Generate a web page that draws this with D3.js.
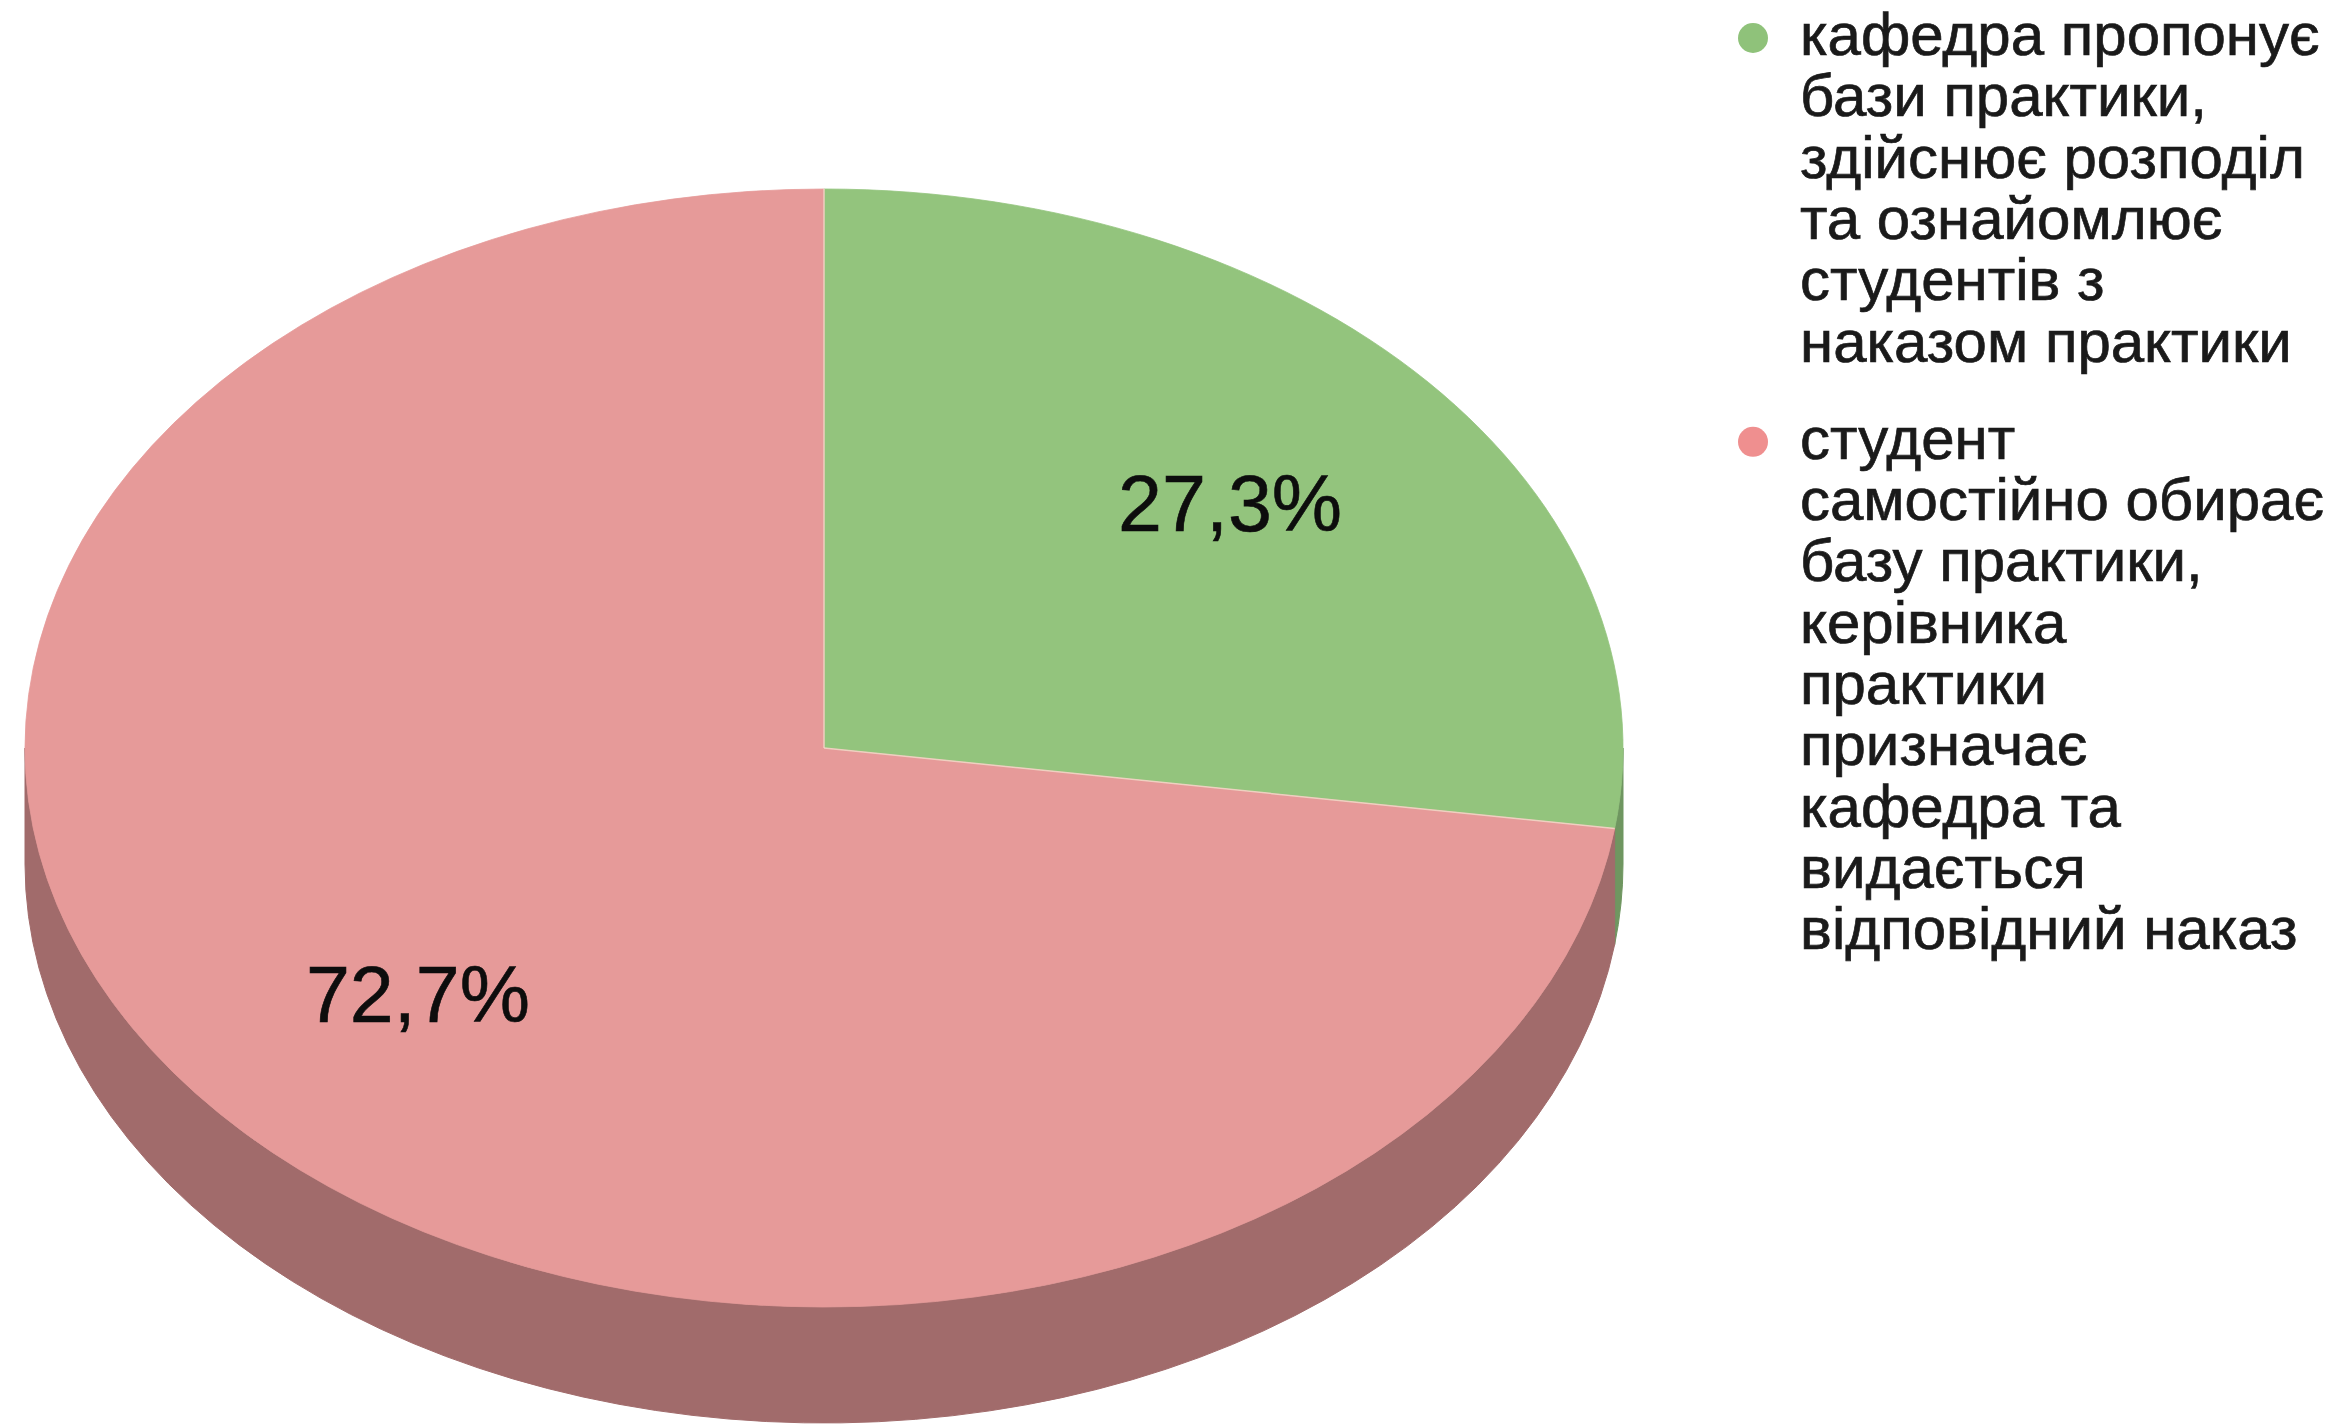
<!DOCTYPE html>
<html lang="uk">
<head>
<meta charset="utf-8">
<script src="https://cdn.jsdelivr.net/npm/d3@7"></script>
<style>
  html, body { margin: 0; padding: 0; background: #ffffff; }
  svg { display: block; }
  text { font-family: "Liberation Sans", Arial, Helvetica, sans-serif; }
</style>
</head>
<body>
<svg id="chart" width="2346" height="1426"></svg>
<script>
// Survey answers: who arranges the student's practice placement
const categories = [
  "кафедра пропонує бази практики, здійснює розподіл та ознайомлює студентів з наказом практики",
  "студент самостійно обирає базу практики, керівника практики призначає кафедра та видається відповідний наказ"
];
const values = [27.3, 72.7];
const valueLabels = ["27,3%", "72,7%"];
const legendLines = [
  ["кафедра пропонує", "бази практики,", "здійснює розподіл", "та ознайомлює", "студентів з", "наказом практики"],
  ["студент", "самостійно обирає", "базу практики,", "керівника", "практики", "призначає", "кафедра та", "видається", "відповідний наказ"]
];
const topColors = ["#93c47d", "#e69a99"];
const sideColors = ["#6f9660", "#a16b6b"];
const legendColors = ["#8fc27a", "#ef8f8f"];

const W = 2346, H = 1426;
const svg = d3.select("#chart");

// Tilted pie geometry
const cx = 824, cy = 748, rx = 799, ry = 559, depth = 116;
const labelRadius = 0.672;

const arcs = d3.pie().sort(null).value(d => d)(values);

// angle measured clockwise from 12 o'clock
const pt = (a, dy = 0) => [cx + rx * Math.sin(a), cy - ry * Math.cos(a) + dy];

function topPath(a0, a1) {
  const p = d3.path();
  const s = pt(a0), e = pt(a1);
  p.moveTo(cx, cy);
  p.lineTo(s[0], s[1]);
  const large = (a1 - a0) > Math.PI ? 1 : 0;
  return p.toString() + `A${rx},${ry} 0 ${large} 1 ${e[0]},${e[1]}Z`;
}

function sidePath(a0, a1) {
  const s = pt(a0), e = pt(a1), eb = pt(a1, depth), sb = pt(a0, depth);
  const large = (a1 - a0) > Math.PI ? 1 : 0;
  return `M${s[0]},${s[1]}A${rx},${ry} 0 ${large} 1 ${e[0]},${e[1]}` +
         `L${eb[0]},${eb[1]}A${rx},${ry} 0 ${large} 0 ${sb[0]},${sb[1]}Z`;
}

// Side walls: only the front half (between 3 o'clock and 9 o'clock) is visible
const gSide = svg.append("g");
arcs.forEach((d, i) => {
  const a0 = Math.max(d.startAngle, Math.PI / 2);
  const a1 = Math.min(d.endAngle, 3 * Math.PI / 2);
  if (a1 > a0) {
    gSide.append("path")
      .attr("d", sidePath(a0, a1))
      .attr("fill", sideColors[i])
      .attr("stroke", sideColors[i])
      .attr("stroke-width", 1);
  }
});

// Top faces
const gTop = svg.append("g");
gTop.selectAll("path")
  .data(arcs)
  .join("path")
  .attr("d", d => topPath(d.startAngle, d.endAngle))
  .attr("fill", (d, i) => topColors[i])
  .attr("stroke", (d, i) => topColors[i])
  .attr("stroke-width", 0.8);

// Thin light seams between slices
gTop.selectAll("line")
  .data(arcs)
  .join("line")
  .attr("x1", cx)
  .attr("y1", cy)
  .attr("x2", d => pt(d.startAngle)[0])
  .attr("y2", d => pt(d.startAngle)[1])
  .attr("stroke", "#f2dccb")
  .attr("stroke-width", 1.5)
  .attr("stroke-opacity", 0.8);

// Percentage labels
svg.append("g")
  .selectAll("text")
  .data(arcs)
  .join("text")
  .attr("x", d => cx + labelRadius * rx * Math.sin((d.startAngle + d.endAngle) / 2))
  .attr("y", d => cy - labelRadius * ry * Math.cos((d.startAngle + d.endAngle) / 2))
  .attr("dy", "0.36em")
  .attr("text-anchor", "middle")
  .attr("font-size", 79)
  .attr("fill", "#0d0d0d")
  .attr("stroke", "#0d0d0d")
  .attr("stroke-width", 0.6)
  .text((d, i) => valueLabels[i]);

// Legend
const legendX = 1753, textX = 1800, lineH = 61.3, itemGap = 36;
const fontSize = 60;
const legend = svg.append("g");
let baseY = 55;
legendLines.forEach((lines, i) => {
  const item = legend.append("g").attr("class", "legend-item");
  item.append("circle")
    .attr("cx", legendX)
    .attr("cy", baseY - 17)
    .attr("r", 15)
    .attr("fill", legendColors[i]);
  const t = item.append("text")
    .attr("x", textX)
    .attr("y", baseY)
    .attr("font-size", fontSize)
    .attr("fill", "#1a1a1a")
    .attr("stroke", "#1a1a1a")
    .attr("stroke-width", 0.7);
  t.selectAll("tspan")
    .data(lines)
    .join("tspan")
    .attr("x", textX)
    .attr("y", (d, k) => baseY + k * lineH)
    .text(d => d);
  baseY += lines.length * lineH + itemGap;
});
</script>
</body>
</html>
